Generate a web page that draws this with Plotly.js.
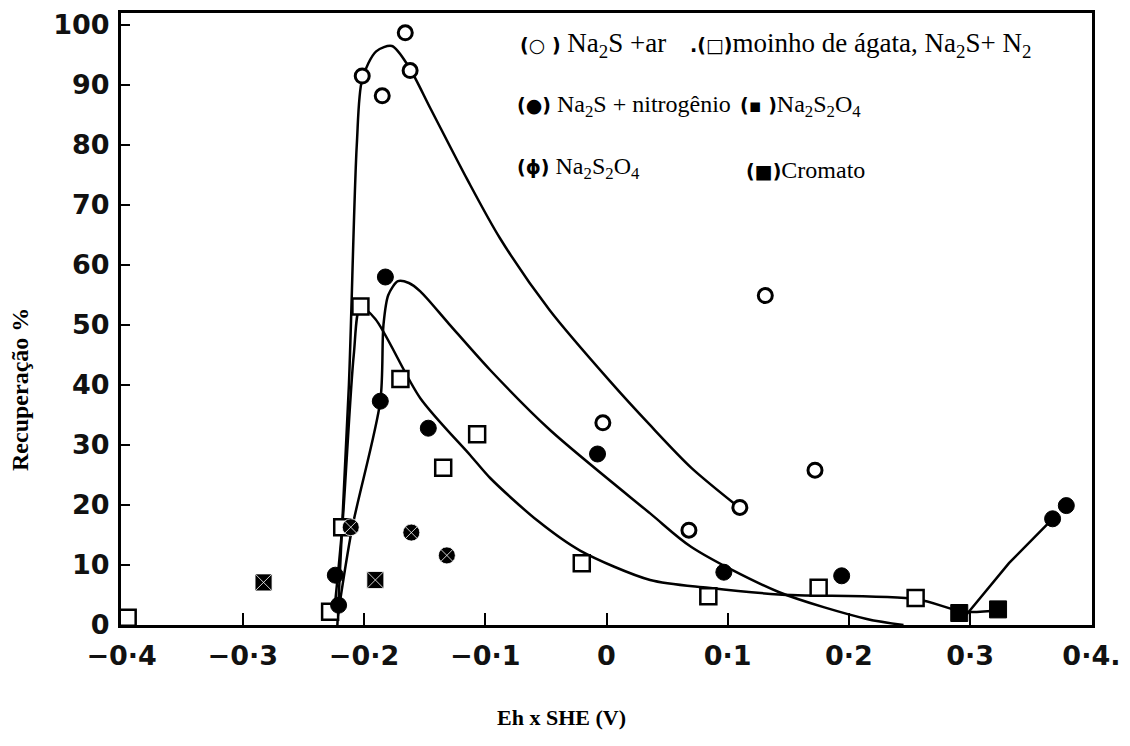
<!DOCTYPE html>
<html>
<head>
<meta charset="utf-8">
<script src="https://cdn.plot.ly/plotly-3.0.1.min.js"></script>
<style>html,body{margin:0;padding:0;background:#fff;}#chart{width:1130px;height:746px;}</style>
</head>
<body>
<div id="chart"></div>
<script>
// ---- data ----
const xTickVals = [-0.4, -0.3, -0.2, -0.1, 0, 0.1, 0.2, 0.3, 0.4];
const xTickText = ['\u22120\u00b74', '\u22120\u00b73', '\u22120\u00b72', '\u22120\u00b71', '0', '0\u00b71', '0\u00b72', '0\u00b73', '0\u00b74.'];
const yTickVals = [0, 10, 20, 30, 40, 50, 60, 70, 80, 90, 100];

// (o) Na2S + ar
const arX = [-0.2015, -0.185, -0.166, -0.162, -0.003, 0.068, 0.110, 0.131, 0.172];
const arY = [91.5, 88.2, 98.7, 92.4, 33.7, 15.8, 19.6, 54.9, 25.8];
// (□) moinho de ágata, Na2S + N2
const agX = [-0.395, -0.228, -0.218, -0.203, -0.170, -0.1347, -0.1067, -0.0204, 0.084, 0.175, 0.255];
const agY = [1.2, 2.2, 16.3, 53.1, 41.0, 26.2, 31.8, 10.3, 4.8, 6.2, 4.5];
// (●) Na2S + nitrogênio
const n2X = [-0.221, -0.2237, -0.1866, -0.1824, -0.147, -0.0074, 0.0968, 0.194, 0.368, 0.3793];
const n2Y = [3.3, 8.3, 37.3, 58.0, 32.8, 28.5, 8.8, 8.2, 17.7, 19.9];
// (ϕ) Na2S2O4
const ditX = [-0.211, -0.161, -0.1317];
const ditY = [16.3, 15.4, 11.6];
// (◪) Na2S2O4
const hsX = [-0.2829, -0.1907];
const hsY = [7.1, 7.5];
// (■) Cromato
const crX = [0.291, 0.323];
const crY = [2.0, 2.6];

// hand-drawn curves
const curveArX = [-0.222, -0.2125, -0.206, -0.2015, -0.19, -0.177, -0.163, -0.145, -0.115, -0.088, -0.047, 0.003, 0.036, 0.07, 0.11];
const curveArY = [0, 40, 80, 91, 95.6, 96.5, 93, 86, 74.3, 64.5, 52.5, 40.6, 33.3, 26.2, 19.5];
const curveN2X = [-0.222, -0.21, -0.1866, -0.184, -0.18, -0.172, -0.163, -0.1536, -0.13, -0.096, -0.0466, 0.036, 0.07, 0.142, 0.2147, 0.245];
const curveN2Y = [1, 16, 37.3, 50, 55, 57.3, 57, 55.6, 50.2, 42.5, 32.5, 18.6, 13, 5.5, 1, 0];
const curveN2bX = [0.296, 0.332, 0.368];
const curveN2bY = [1.5, 10.3, 17.7];
const curveAgX = [-0.2252, -0.218, -0.2085, -0.203, -0.1907, -0.1536, -0.1124, -0.096, -0.057, -0.0218, 0.036, 0.084, 0.142, 0.256, 0.295, 0.325];
const curveAgY = [1, 16.3, 45, 53, 51, 37.8, 28.3, 24.5, 17.4, 12.4, 7.5, 6.2, 5.1, 4.3, 2.2, 2.5];

// ---- layout helpers ----
const W = 1130, H = 746, ML = 121, MR = 38, MT = 13, MB = 121;
const px = v => (v - ML) / (W - ML - MR);
const py = v => (H - MB - v) / (H - MT - MB);

const lineStyle = {color: '#000', width: 2.5, shape: 'spline', smoothing: 0.8};
function curve(x, y) { return {x: x, y: y, mode: 'lines', line: lineStyle, hoverinfo: 'skip', showlegend: false}; }

const traces = [
  curve(curveArX, curveArY),
  curve(curveN2X, curveN2Y),
  Object.assign(curve(curveN2bX, curveN2bY), {line: {color: '#000', width: 2.5}}),
  curve(curveAgX, curveAgY),
  {x: arX, y: arY, mode: 'markers', name: 'Na2S + ar',
   marker: {symbol: 'circle', size: 14, color: '#fff', line: {color: '#000', width: 3}}},
  {x: agX, y: agY, mode: 'markers', name: 'moinho de ágata',
   marker: {symbol: 'square', size: 16, color: '#fff', line: {color: '#000', width: 2.5}}},
  {x: n2X, y: n2Y, mode: 'markers', name: 'Na2S + nitrogênio',
   marker: {symbol: 'circle', size: 16, color: '#000', line: {color: '#000', width: 1}}},
  {x: ditX, y: ditY, mode: 'markers', name: 'Na2S2O4 (ϕ)',
   marker: {symbol: 'circle-x', size: 17, color: '#000', line: {color: '#fff', width: 0.8}}},
  {x: hsX, y: hsY, mode: 'markers', name: 'Na2S2O4 (◪)',
   marker: {symbol: 'square-x', size: 17, color: '#000', line: {color: '#fff', width: 0.8}}},
  {x: crX, y: crY, mode: 'markers', name: 'Cromato',
   marker: {symbol: 'square', size: 17, color: '#000', line: {color: '#000', width: 1}}}
];

const serif = 'Liberation Serif, Times New Roman, serif';
function leg(xp, yp, txt, size) {
  return {xref: 'paper', yref: 'paper', x: px(xp), y: py(yp), xanchor: 'left', yanchor: 'middle',
          text: txt, showarrow: false, font: {family: serif, size: size || 24, color: '#000'}};
}
const sym = s => '<span style="font-family:DejaVu Sans;font-weight:bold;font-size:19px">' + s + '</span>';

const annotations = [
  leg(518, 45, sym('(\u25cb )') + ' Na<sub>2</sub>S +ar', 27),
  leg(688, 45, sym('.(\u25a1)') + 'moinho de ágata, Na<sub>2</sub>S+ N<sub>2</sub>', 27),
  leg(515, 106, sym('(\u25cf)') + ' Na<sub>2</sub>S + nitrogênio'),
  leg(738, 106, sym('(\u25aa )') + 'Na<sub>2</sub>S<sub>2</sub>O<sub>4</sub>'),
  leg(515, 168, sym('(\u03d5)') + ' Na<sub>2</sub>S<sub>2</sub>O<sub>4</sub>'),
  leg(744, 170, sym('(\u25a0)') + 'Cromato'),
  {xref: 'paper', yref: 'paper', x: px(561), y: py(718), xanchor: 'center', yanchor: 'middle',
   text: '<b>Eh x SHE (V)</b>', showarrow: false,
   font: {family: serif, size: 22, color: '#000'}},
  {xref: 'paper', yref: 'paper', x: px(20), y: py(390), xanchor: 'center', yanchor: 'middle',
   text: '<b>Recuperação %</b>', textangle: -90, showarrow: false,
   font: {family: serif, size: 24, color: '#000'}}
];

const tickFont = {family: 'DejaVu Sans, sans-serif', size: 27, color: '#111', weight: 'bold'};
const layout = {
  width: W, height: H,
  margin: {l: ML, r: MR, t: MT, b: MB, pad: 0},
  paper_bgcolor: '#fff', plot_bgcolor: '#fff',
  showlegend: false,
  xaxis: {
    range: [-0.4005, 0.4005], tickvals: xTickVals, ticktext: xTickText,
    ticks: 'inside', ticklen: 12, tickwidth: 2, tickcolor: '#000',
    showgrid: false, zeroline: false,
    showline: true, mirror: true, linewidth: 3, linecolor: '#000',
    tickfont: tickFont, ticklabelstandoff: 5
  },
  yaxis: {
    range: [0, 102], tickvals: yTickVals,
    ticks: 'inside', ticklen: 9, tickwidth: 2, tickcolor: '#000',
    showgrid: false, zeroline: false,
    showline: true, mirror: true, linewidth: 3, linecolor: '#000',
    tickfont: tickFont, ticklabelstandoff: 3
  },
  annotations: annotations
};

Plotly.newPlot('chart', traces, layout, {staticPlot: true, displayModeBar: false});
</script>
</body>
</html>
